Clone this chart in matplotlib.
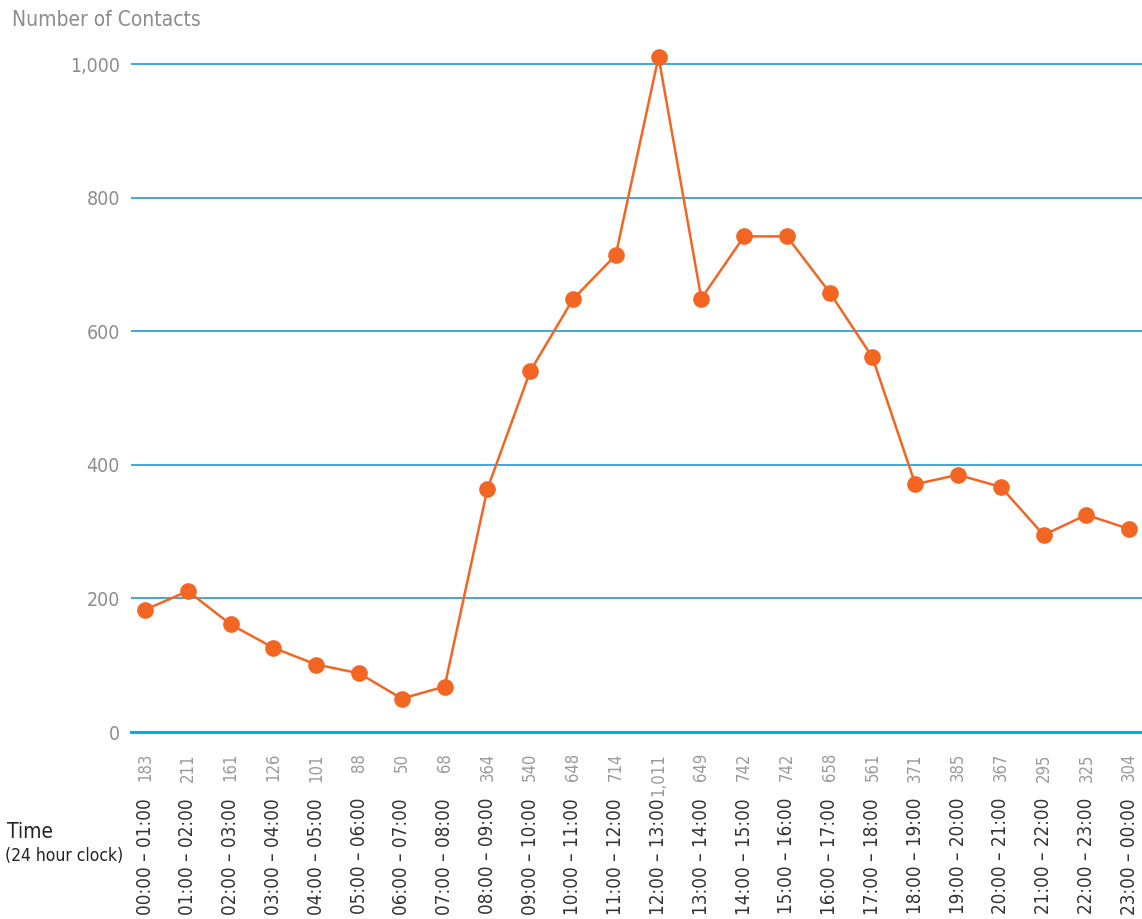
import matplotlib
matplotlib.use("Agg")
import matplotlib.pyplot as plt
from matplotlib.transforms import blended_transform_factory

plt.rcParams['font.family'] = ['DejaVu Sans']
plt.rcParams['font.stretch'] = 'condensed'

# contacts per hour of the day
hours = [f"{h:02d}:00 – {(h + 1) % 24:02d}:00" for h in range(24)]
contacts = [183, 211, 161, 126, 101, 88, 50, 68, 364, 540, 648, 714,
            1011, 649, 742, 742, 658, 561, 371, 385, 367, 295, 325, 304]
y_ticks = [0, 200, 400, 600, 800, 1000]

orange = '#f26522'
grid_blue = '#1e9ad6'
grey = '#8c8c91'

fig = plt.figure(figsize=(11.42, 9.19), dpi=100)
ax = fig.add_axes([131 / 1142, 1 - 732 / 919, 1 - 131 / 1142, (732 - 24) / 919])

x = list(range(len(contacts)))
ax.plot(x, contacts, color=orange, lw=1.8, marker='o', markersize=12,
        markeredgewidth=0, clip_on=False, zorder=3)

ax.set_xlim(-0.33, 23.3)
ax.set_ylim(0, 1060)

for v in y_ticks[1:]:
    ax.axhline(v, color=grid_blue, lw=1.2, zorder=1)
ax.axhline(0, color='#00aeef', lw=2.2, zorder=2, clip_on=False)

for s in ax.spines.values():
    s.set_visible(False)
ax.set_xticks([])
ax.set_yticks(y_ticks)
ax.set_yticklabels([f"{v:,}" for v in y_ticks], color=grey, fontsize=14)
ax.tick_params(axis='y', length=0, pad=8)

# value row and time row under the axis
trans = blended_transform_factory(ax.transData, fig.transFigure)
for i, (lab, v) in enumerate(zip(hours, contacts)):
    ax.text(i, 1 - 753 / 919, f"{v:,}", rotation=90, ha='center', va='top',
            color='#9a9a9e', fontsize=12, transform=trans)
    ax.text(i, 1 - 798 / 919, lab, rotation=90, ha='center', va='top',
            color='#333333', fontsize=13.5, transform=trans)

fig.text(12 / 1142, 1 - 20 / 919, "Number of Contacts", color=grey,
         fontsize=15, va='center', ha='left')
fig.text(7 / 1142, 1 - 832 / 919, "Time", color='#222222', fontsize=15,
         va='center', ha='left')
fig.text(5 / 1142, 1 - 856 / 919, "(24 hour clock)", color='#222222',
         fontsize=12.5, va='center', ha='left')

fig.savefig('out.png', dpi=100)
